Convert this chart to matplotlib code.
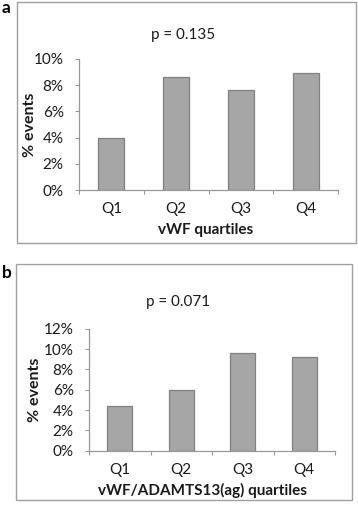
import matplotlib
matplotlib.use("Agg")
import matplotlib.pyplot as plt
from matplotlib.patches import Rectangle
from matplotlib.ticker import PercentFormatter

plt.rcParams['font.family'] = ['Lato', 'DejaVu Sans']

# data
quartiles = ['Q1', 'Q2', 'Q3', 'Q4']
events_vwf = [4.0, 8.6, 7.6, 8.9]
events_ratio = [4.4, 6.0, 9.6, 9.2]

W, H = 358, 505
fig = plt.figure(figsize=(W / 100, H / 100), dpi=100)


def px_axes(left, top, right, bottom):
    return fig.add_axes([left / W, 1 - bottom / H, (right - left) / W, (bottom - top) / H])


def px_box(left, top, right, bottom):
    fig.patches.append(Rectangle((left / W, 1 - bottom / H), (right - left) / W, (bottom - top) / H,
                                 transform=fig.transFigure, fill=False, ec='#a0a0a0', lw=1.0))


def draw_panel(ax, values, ymax, step, xlabel, box):
    left, top, right, bottom = box
    x = range(len(values))
    ax.bar(x, values, width=0.4, color='#a6a6a6', edgecolor='#808080', linewidth=0.9)
    ax.set_xlim(-0.5, len(values) - 0.5)
    ax.set_ylim(0, ymax)
    ax.set_yticks(range(0, ymax + 1, step))
    ax.yaxis.set_major_formatter(PercentFormatter(decimals=0))
    ax.set_xticks(list(x))
    ax.set_xticklabels(quartiles)
    ax.set_xticks([i - 0.5 for i in range(len(values) + 1)], minor=True)
    ax.tick_params(axis='x', which='major', length=0, pad=9, labelsize=11, colors='#1a1a1a')
    ax.tick_params(axis='x', which='minor', length=3, color='#999999', width=0.8)
    ax.tick_params(axis='y', length=3, color='#999999', width=0.8, pad=8, labelsize=11,
                   labelcolor='#1a1a1a')
    for s in ['top', 'right']:
        ax.spines[s].set_visible(False)
    for s in ['left', 'bottom']:
        ax.spines[s].set_color('#999999')
        ax.spines[s].set_linewidth(0.9)
    w, h = right - left, bottom - top
    ax.set_ylabel('% events', fontsize=11.5, fontweight='bold', color='#1a1a1a', va='center')
    ax.set_xlabel(xlabel, fontsize=11, fontweight='bold', color='#1a1a1a', va='center')
    return w, h


# panel a
px_box(16.5, 1.5, 356, 243)
box_a = (79, 59, 338, 190)
ax1 = px_axes(*box_a)
w, h = draw_panel(ax1, events_vwf, 10, 2, 'vWF quartiles', box_a)
ax1.yaxis.set_label_coords((30 - 79) / w, 0.5)
ax1.xaxis.set_label_coords((206 - 79) / w, -(230 - 190) / h)
fig.text(183 / W, 1 - 35 / H, 'p = 0.135', ha='center', va='center', fontsize=11, color='#1a1a1a')
fig.text(2 / W, 1 - 8 / H, 'a', ha='left', va='center', fontsize=12.5, fontweight='bold')

# panel b
px_box(16, 263.5, 352, 500)
box_b = (89, 328.7, 335, 450.7)
ax2 = px_axes(*box_b)
w, h = draw_panel(ax2, events_ratio, 12, 2, 'vWF/ADAMTS13(ag) quartiles', box_b)
ax2.yaxis.set_label_coords((35 - 89) / w, 0.5)
ax2.xaxis.set_label_coords((203 - 89) / w, -(490.7 - 450.7) / h)
fig.text(178 / W, 1 - 301.7 / H, 'p = 0.071', ha='center', va='center', fontsize=11, color='#1a1a1a')
fig.text(2 / W, 1 - 273 / H, 'b', ha='left', va='center', fontsize=12.5, fontweight='bold')

fig.savefig('out.png', dpi=100)
